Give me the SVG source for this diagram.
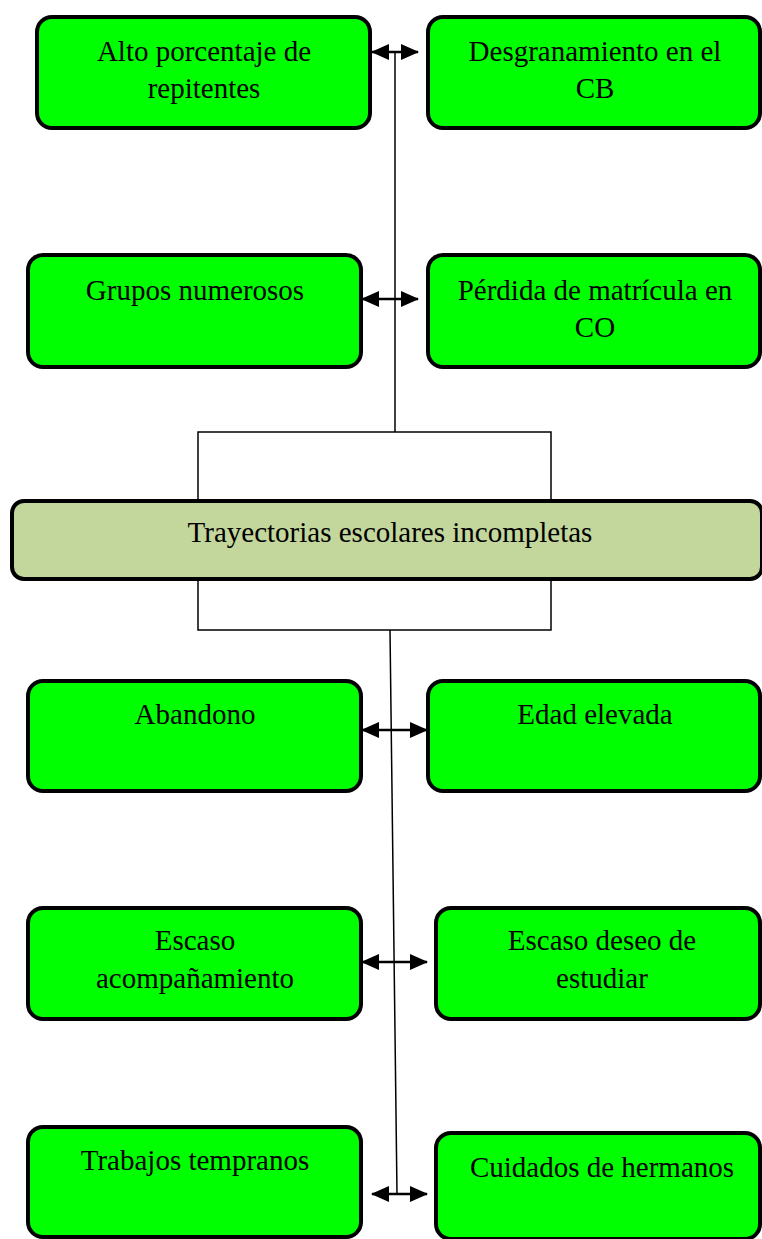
<svg xmlns="http://www.w3.org/2000/svg" width="762" height="1239" viewBox="0 0 762 1239">
<style>
.box{fill:#00FF00;stroke:#000;stroke-width:4}
.main{fill:#C3D69B;stroke:#000;stroke-width:4}
.t{font-family:"Liberation Serif","Times New Roman",serif;font-size:29px;fill:#000;text-anchor:middle}
.ln{fill:none;stroke:#000;stroke-width:1.5}
.ar{fill:none;stroke:#000;stroke-width:2.5}
</style>
<defs>
<marker id="ah" markerUnits="userSpaceOnUse" markerWidth="18" markerHeight="16" refX="17" refY="8" orient="auto-start-reverse" viewBox="0 0 18 16">
<path d="M0,0 L18,8 L0,16 Z" fill="#000"/>
</marker>
</defs>
<g id="connectors">
<line class="ln" x1="395" y1="52" x2="395" y2="432"/>
<polyline class="ln" points="198,500 198,432 551,432 551,500"/>
<polyline class="ln" points="198,579 198,630 551,630 551,579"/>
<line class="ln" x1="390" y1="630" x2="397" y2="1194"/>
<line class="ar" x1="372" y1="52" x2="418" y2="52" marker-start="url(#ah)" marker-end="url(#ah)"/>
<line class="ar" x1="362" y1="299" x2="418" y2="299" marker-start="url(#ah)" marker-end="url(#ah)"/>
<line class="ar" x1="362" y1="730" x2="427" y2="730" marker-start="url(#ah)" marker-end="url(#ah)"/>
<line class="ar" x1="362" y1="962" x2="427" y2="962" marker-start="url(#ah)" marker-end="url(#ah)"/>
<line class="ar" x1="372" y1="1194" x2="427" y2="1194" marker-start="url(#ah)" marker-end="url(#ah)"/>
</g>
<g id="n1"><rect class="box" x="37" y="17" width="333" height="111" rx="15"/><text class="t" x="204" y="61">Alto porcentaje de</text><text class="t" x="204" y="98">repitentes</text></g>
<g id="n2"><rect class="box" x="428" y="17" width="332" height="111" rx="15"/><text class="t" x="595" y="61">Desgranamiento en el</text><text class="t" x="595" y="98">CB</text></g>
<g id="n3"><rect class="box" x="28" y="255" width="333" height="112" rx="15"/><text class="t" x="195" y="300">Grupos numerosos</text></g>
<g id="n4"><rect class="box" x="428" y="255" width="332" height="112" rx="15"/><text class="t" x="595" y="300">Pérdida de matrícula en</text><text class="t" x="595" y="337">CO</text></g>
<g id="center"><rect class="main" x="12" y="501" width="750" height="78" rx="12"/><text class="t" x="390" y="542">Trayectorias escolares incompletas</text></g>
<g id="n5"><rect class="box" x="28" y="681" width="333" height="110" rx="15"/><text class="t" x="195" y="724">Abandono</text></g>
<g id="n6"><rect class="box" x="428" y="681" width="332" height="110" rx="15"/><text class="t" x="595" y="724">Edad elevada</text></g>
<g id="n7"><rect class="box" x="28" y="908" width="333" height="111" rx="15"/><text class="t" x="195" y="950">Escaso</text><text class="t" x="195" y="988">acompañamiento</text></g>
<g id="n8"><rect class="box" x="436" y="908" width="324" height="111" rx="15"/><text class="t" x="602" y="950">Escaso deseo de</text><text class="t" x="602" y="988">estudiar</text></g>
<g id="n9"><rect class="box" x="28" y="1127" width="333" height="110" rx="15"/><text class="t" x="195" y="1170">Trabajos tempranos</text></g>
<g id="n10"><rect class="box" x="436" y="1133" width="324" height="106" rx="15"/><text class="t" x="602" y="1177">Cuidados de hermanos</text></g>
</svg>
